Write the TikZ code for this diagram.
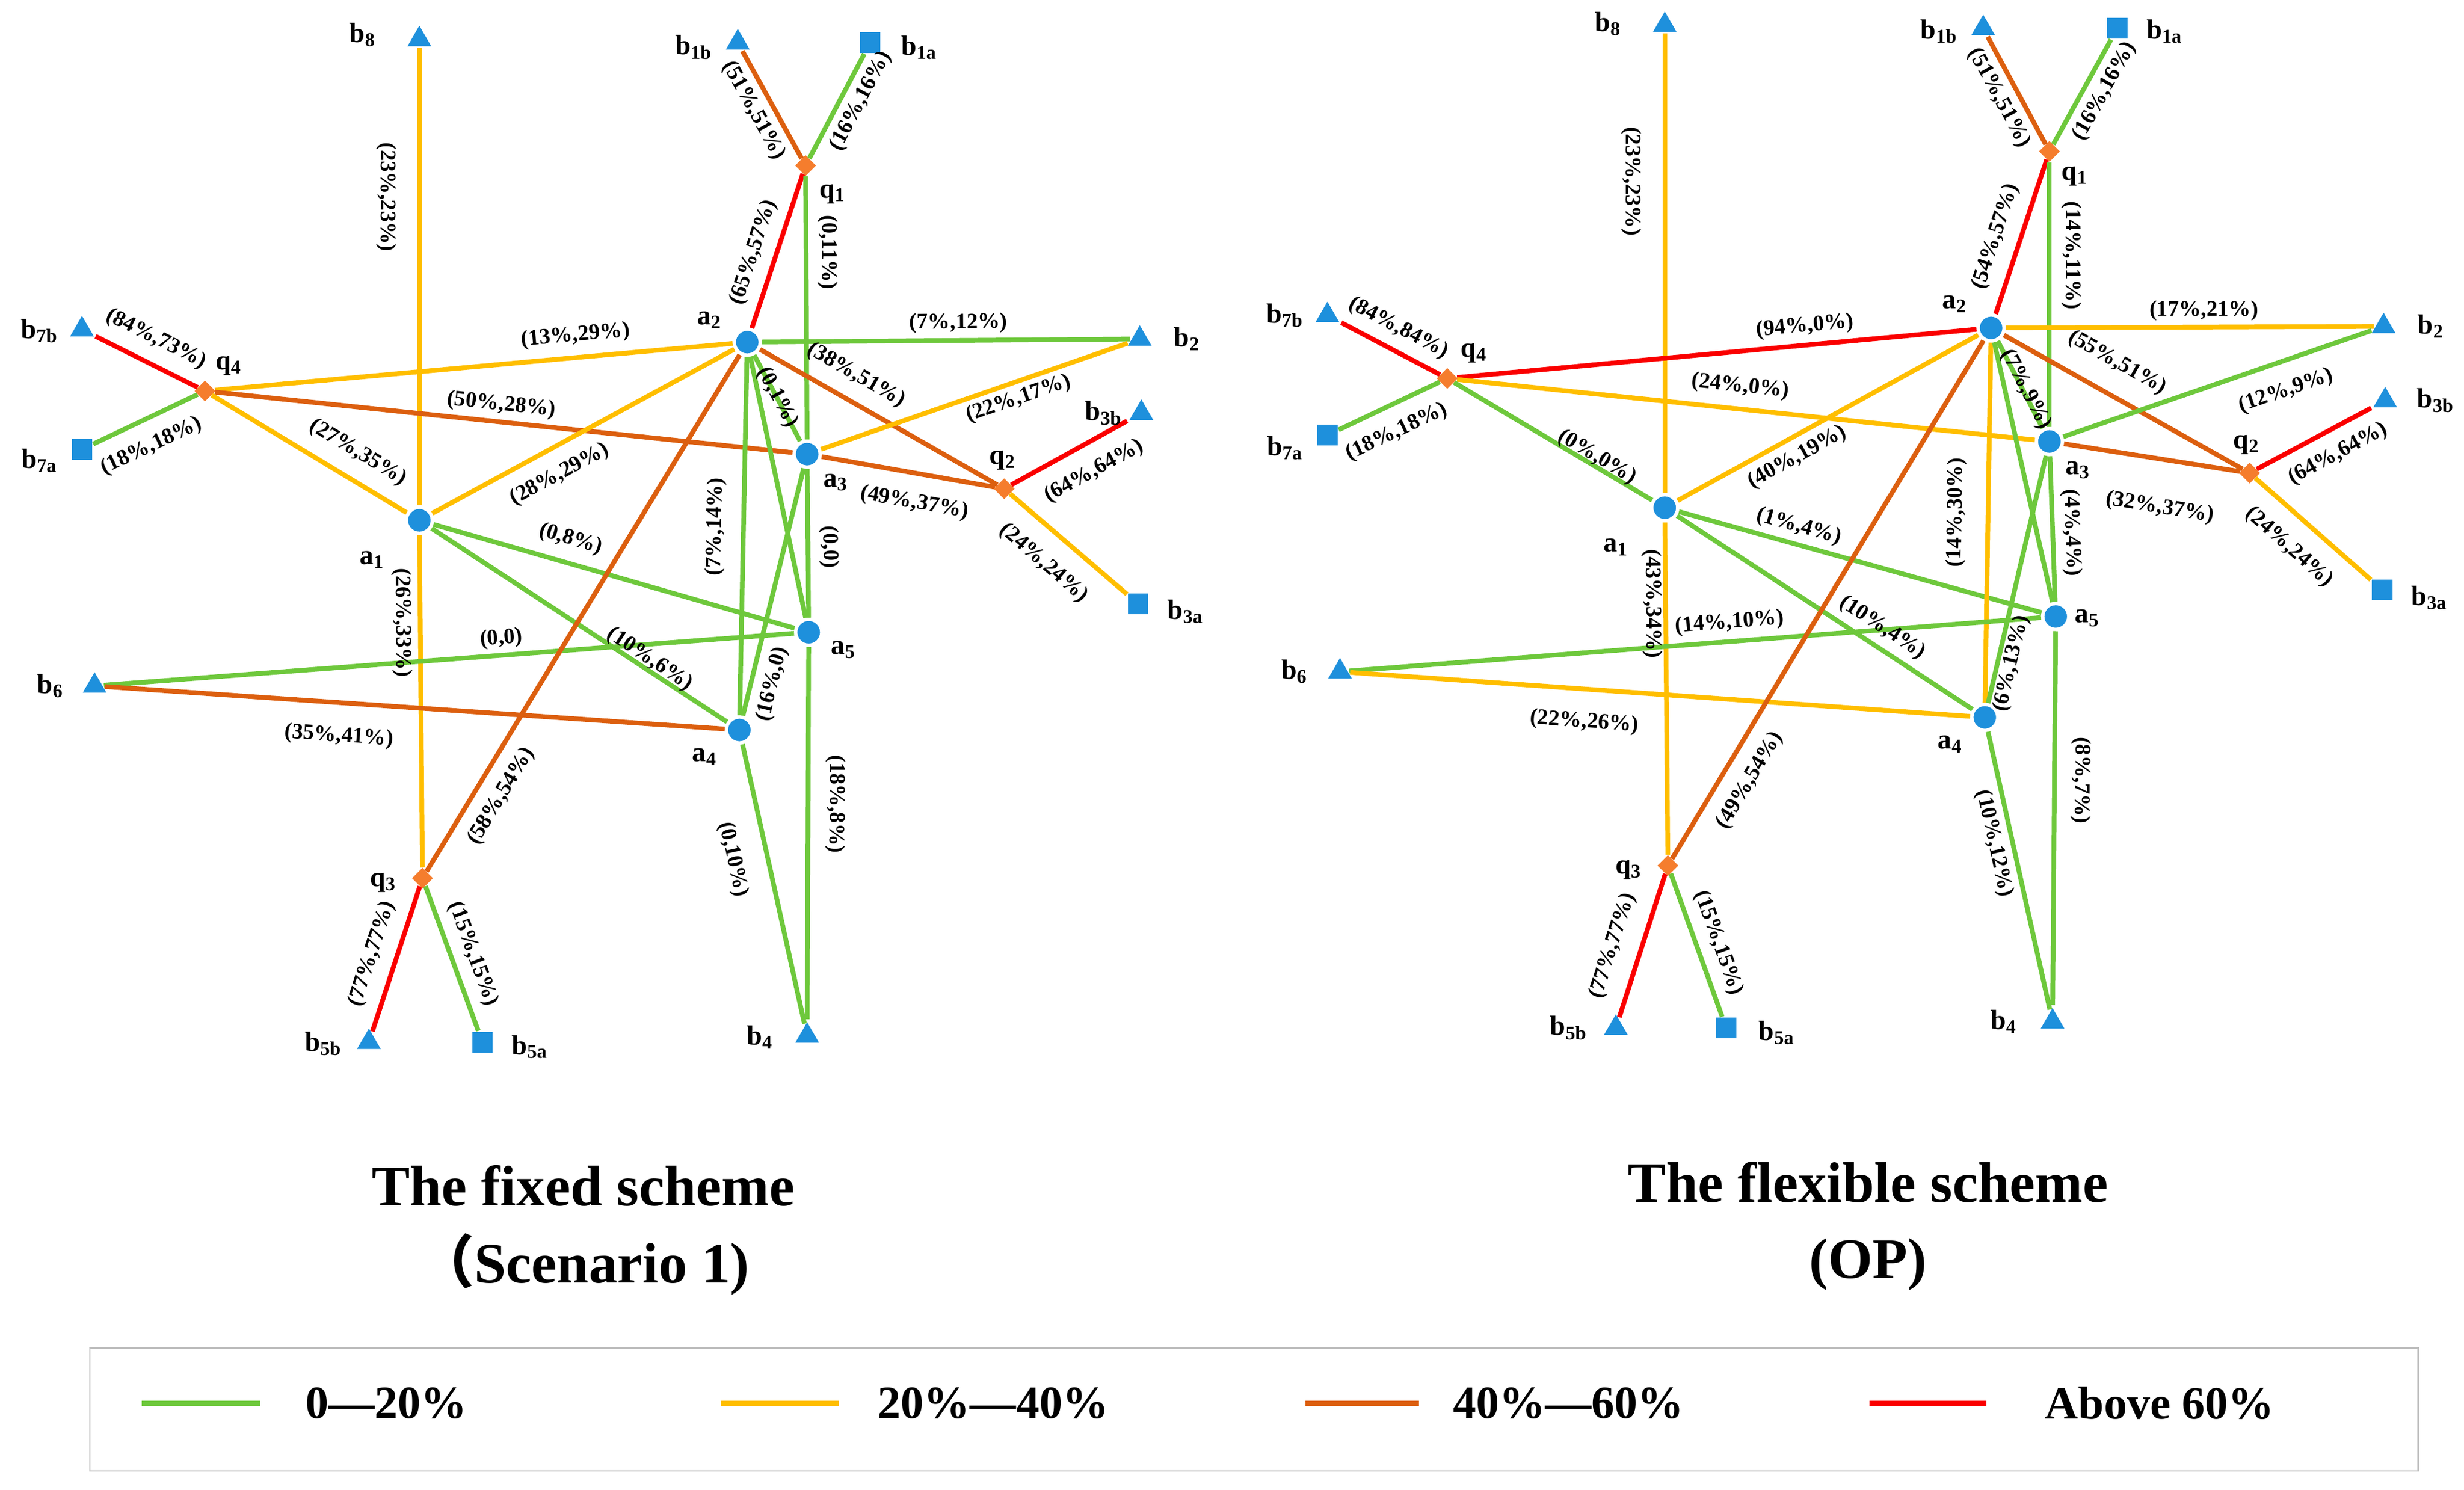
\documentclass[tikz,border=0pt]{standalone}
\usepackage{fontspec}
\setmainfont{Liberation Serif}
\newfontfamily\cjk{Noto Sans CJK SC}
\usetikzlibrary{calc,shapes.geometric,backgrounds}
\definecolor{cG}{RGB}{110,200,60}
\definecolor{cY}{RGB}{255,190,0}
\definecolor{cO}{RGB}{220,95,15}
\definecolor{cR}{RGB}{250,0,0}
\definecolor{cB}{RGB}{30,144,220}
\definecolor{cD}{RGB}{245,125,45}
\tikzset{
 G/.style={cG,line width=0.9mm}, Y/.style={cY,line width=0.9mm},
 O/.style={cO,line width=0.9mm}, R/.style={cR,line width=0.9mm},
 ac/.style={circle,fill=cB,draw=white,line width=0.3mm,minimum size=4.6mm,inner sep=0,outer sep=0.5mm},
 bt/.style={regular polygon,regular polygon sides=3,fill=cB,minimum size=5.2mm,inner sep=0,outer sep=0.3mm},
 bs/.style={rectangle,fill=cB,minimum size=3.9mm,inner sep=0,outer sep=0.2mm},
 qd/.style={diamond,fill=cD,minimum size=4mm,inner sep=0},
 nl/.style={font=\fontsize{15}{17}\selectfont\bfseries},
 lab/.style={font=\fontsize{12}{14}\selectfont\bfseries,inner sep=0},
}
\newcommand\elabel[5]{\path let \p1=($(#2)-(#1)$), \n1={atan2(\y1,\x1)},
 \n2={ifthenelse(\n1>90.5,\n1-180,ifthenelse(\n1<-90.5,\n1+180,\n1))} in
 node[lab,rotate=\n2] at (#3,#4) {#5};}
\begin{document}
\begin{tikzpicture}[x=0.3mm,y=-0.3mm]
\useasboundingbox (0,0) rectangle (1563,945);
% ---------- left nodes
\node[bt] (Lb8) at (266,25) {}; \node[nl] at (230,22) {b\textsubscript{8}};
\node[bt] (Lb1b) at (468,27) {}; \node[nl] at (440,30) {b\textsubscript{1b}};
\node[bs] (Lb1a) at (552,27) {}; \node[nl] at (583,30) {b\textsubscript{1a}};
\node[qd] (Lq1) at (511,105) {}; \node[nl] at (528,123) {q\textsubscript{1}};
\node[ac] (La2) at (474,217) {}; \node[nl] at (450,203) {a\textsubscript{2}};
\node[bt] (Lb2) at (723,215) {}; \node[nl] at (753,215) {b\textsubscript{2}};
\node[bt] (Lb7b) at (52,209) {}; \node[nl] at (25,210) {b\textsubscript{7b}};
\node[qd] (Lq4) at (130,248) {}; \node[nl] at (145,232) {q\textsubscript{4}};
\node[bs] (Lb7a) at (52,285) {}; \node[nl] at (25,292) {b\textsubscript{7a}};
\node[ac] (La3) at (512,288) {}; \node[nl] at (530,306) {a\textsubscript{3}};
\node[bt] (Lb3b) at (724,262) {}; \node[nl] at (700,262) {b\textsubscript{3b}};
\node[qd] (Lq2) at (637,310) {}; \node[nl] at (636,292) {q\textsubscript{2}};
\node[ac] (La1) at (266,330) {}; \node[nl] at (236,355) {a\textsubscript{1}};
\node[bs] (Lb3a) at (722,383) {}; \node[nl] at (752,388) {b\textsubscript{3a}};
\node[ac] (La5) at (513,401) {}; \node[nl] at (535,412) {a\textsubscript{5}};
\node[bt] (Lb6) at (60,435) {}; \node[nl] at (32,435) {b\textsubscript{6}};
\node[ac] (La4) at (469,463) {}; \node[nl] at (447,480) {a\textsubscript{4}};
\node[qd] (Lq3) at (268,557) {}; \node[nl] at (243,560) {q\textsubscript{3}};
\node[bt] (Lb5b) at (234,661) {}; \node[nl] at (205,662) {b\textsubscript{5b}};
\node[bs] (Lb5a) at (306,661) {}; \node[nl] at (336,664) {b\textsubscript{5a}};
\node[bt] (Lb4) at (512,657) {}; \node[nl] at (482,658) {b\textsubscript{4}};
% ---------- right nodes
\node[bt] (Rb8) at (1056,16) {}; \node[nl] at (1020,15) {b\textsubscript{8}};
\node[bt] (Rb1b) at (1258,18) {}; \node[nl] at (1230,20) {b\textsubscript{1b}};
\node[bs] (Rb1a) at (1343,18) {}; \node[nl] at (1373,20) {b\textsubscript{1a}};
\node[qd] (Rq1) at (1300,96) {}; \node[nl] at (1316,112) {q\textsubscript{1}};
\node[ac] (Ra2) at (1263,208) {}; \node[nl] at (1240,193) {a\textsubscript{2}};
\node[bt] (Rb2) at (1512,207) {}; \node[nl] at (1542,207) {b\textsubscript{2}};
\node[bt] (Rb7b) at (842,200) {}; \node[nl] at (815,200) {b\textsubscript{7b}};
\node[qd] (Rq4) at (918,240) {}; \node[nl] at (935,224) {q\textsubscript{4}};
\node[bs] (Rb7a) at (842,276) {}; \node[nl] at (815,284) {b\textsubscript{7a}};
\node[ac] (Ra3) at (1300,280) {}; \node[nl] at (1318,298) {a\textsubscript{3}};
\node[bt] (Rb3b) at (1513,254) {}; \node[nl] at (1545,254) {b\textsubscript{3b}};
\node[qd] (Rq2) at (1427,300) {}; \node[nl] at (1425,282) {q\textsubscript{2}};
\node[ac] (Ra1) at (1056,322) {}; \node[nl] at (1025,347) {a\textsubscript{1}};
\node[bs] (Rb3a) at (1511,374) {}; \node[nl] at (1541,379) {b\textsubscript{3a}};
\node[ac] (Ra5) at (1304,391) {}; \node[nl] at (1324,392) {a\textsubscript{5}};
\node[bt] (Rb6) at (850,426) {}; \node[nl] at (821,426) {b\textsubscript{6}};
\node[ac] (Ra4) at (1259,455) {}; \node[nl] at (1237,472) {a\textsubscript{4}};
\node[qd] (Rq3) at (1058,549) {}; \node[nl] at (1033,552) {q\textsubscript{3}};
\node[bt] (Rb5b) at (1025,652) {}; \node[nl] at (995,652) {b\textsubscript{5b}};
\node[bs] (Rb5a) at (1095,652) {}; \node[nl] at (1127,655) {b\textsubscript{5a}};
\node[bt] (Rb4) at (1302,648) {}; \node[nl] at (1271,648) {b\textsubscript{4}};
% ---------- edges
\begin{scope}[on background layer]
\foreach \u/\v/\c in {b8/a1/Y,a1/q3/Y,b1b/q1/O,b1a/q1/G,q1/a2/R,q1/a3/G,a2/b2/G,q4/a2/Y,b7b/q4/R,b7a/q4/G,q4/a3/O,q4/a1/Y,a1/a2/Y,a2/q2/O,a3/b2/Y,a3/q2/O,a2/a3/G,q2/b3b/R,q2/b3a/Y,a1/a5/G,a2/a4/G,a2/a5/G,a3/a5/G,a3/a4/G,a1/a4/G,b6/a5/G,b6/a4/O,a2/q3/O,q3/b5b/R,q3/b5a/G,a4/b4/G,a5/b4/G}
 \draw[\c] (L\u) -- (L\v);
\foreach \u/\v/\c in {b8/a1/Y,a1/q3/Y,b1b/q1/O,b1a/q1/G,q1/a2/R,q1/a3/G,a2/b2/Y,q4/a2/R,b7b/q4/R,b7a/q4/G,q4/a3/Y,q4/a1/G,a1/a2/Y,a2/q2/O,a3/b2/G,a3/q2/O,a2/a3/G,q2/b3b/R,q2/b3a/Y,a1/a5/G,a2/a4/Y,a2/a5/G,a3/a5/G,a3/a4/G,a1/a4/G,b6/a5/G,b6/a4/Y,a2/q3/O,q3/b5b/R,q3/b5a/G,a4/b4/G,a5/b4/G}
 \draw[\c] (R\u) -- (R\v);
\end{scope}
% ---------- left labels
\elabel{Lb8}{La1}{245}{125}{(23\%,23\%)}
\elabel{La1}{Lq3}{255}{395}{(26\%,33\%)}
\elabel{Lb1b}{Lq1}{478}{70}{(51\%,51\%)}
\elabel{Lb1a}{Lq1}{546}{64}{(16\%,16\%)}
\elabel{Lq1}{La2}{478}{160}{(65\%,57\%)}
\elabel{Lq1}{La3}{525}{160}{(0,11\%)}
\elabel{La2}{Lb2}{608}{205}{(7\%,12\%)}
\elabel{Lq4}{La2}{365}{213}{(13\%,29\%)}
\elabel{Lb7b}{Lq4}{99}{215}{(84\%,73\%)}
\elabel{Lb7a}{Lq4}{96}{283}{(18\%,18\%)}
\elabel{Lq4}{La3}{318}{257}{(50\%,28\%)}
\elabel{Lq4}{La1}{227}{287}{(27\%,35\%)}
\elabel{La1}{La2}{355}{301}{(28\%,29\%)}
\elabel{La2}{Lq2}{543}{238}{(38\%,51\%)}
\elabel{La3}{Lb2}{646}{253}{(22\%,17\%)}
\elabel{La3}{Lq2}{580}{319}{(49\%,37\%)}
\elabel{La2}{La3}{493}{252}{(0,1\%)}
\elabel{Lq2}{Lb3b}{694}{299}{(64\%,64\%)}
\elabel{Lq2}{Lb3a}{662}{357}{(24\%,24\%)}
\elabel{La1}{La5}{362}{342}{(0,8\%)}
\elabel{La2}{La4}{454}{334}{(7\%,14\%)}
\elabel{La3}{La5}{526}{347}{(0,0)}
\elabel{La3}{La4}{490}{434}{(16\%,0)}
\elabel{La1}{La4}{412}{418}{(10\%,6\%)}
\elabel{Lb6}{La5}{318}{405}{(0,0)}
\elabel{Lb6}{La4}{215}{467}{(35\%,41\%)}
\elabel{La2}{Lq3}{318}{505}{(58\%,54\%)}
\elabel{Lq3}{Lb5b}{236}{605}{(77\%,77\%)}
\elabel{Lq3}{Lb5a}{300}{605}{(15\%,15\%)}
\elabel{La4}{Lb4}{465}{545}{(0,10\%)}
\elabel{La5}{Lb4}{530}{510}{(18\%,8\%)}
% ---------- right labels
\elabel{Rb8}{Ra1}{1035}{115}{(23\%,23\%)}
\elabel{Ra1}{Rq3}{1048}{383}{(43\%,34\%)}
\elabel{Rb1b}{Rq1}{1268}{62}{(51\%,51\%)}
\elabel{Rb1a}{Rq1}{1335}{58}{(16\%,16\%)}
\elabel{Rq1}{Ra2}{1266}{150}{(54\%,57\%)}
\elabel{Rq1}{Ra3}{1314}{162}{(14\%,11\%)}
\elabel{Ra2}{Rb2}{1398}{197}{(17\%,21\%)}
\elabel{Rq4}{Ra2}{1145}{207}{(94\%,0\%)}
\elabel{Rb7b}{Rq4}{887}{208}{(84\%,84\%)}
\elabel{Rb7a}{Rq4}{886}{274}{(18\%,18\%)}
\elabel{Rq4}{Ra3}{1104}{245}{(24\%,0\%)}
\elabel{Rq4}{Ra1}{1013}{290}{(0\%,0\%)}
\elabel{Ra1}{Ra2}{1140}{290}{(40\%,19\%)}
\elabel{Ra2}{Rq2}{1343}{230}{(55\%,51\%)}
\elabel{Ra3}{Rb2}{1450}{248}{(12\%,9\%)}
\elabel{Ra3}{Rq2}{1370}{322}{(32\%,37\%)}
\elabel{Ra2}{Ra3}{1285}{247}{(7\%,9\%)}
\elabel{Rq2}{Rb3b}{1483}{288}{(64\%,64\%)}
\elabel{Rq2}{Rb3a}{1452}{347}{(24\%,24\%)}
\elabel{Ra1}{Ra5}{1141}{334}{(1\%,4\%)}
\elabel{Ra2}{Ra4}{1241}{325}{(14\%,30\%)}
\elabel{Ra3}{Ra5}{1314}{338}{(4\%,4\%)}
\elabel{Ra3}{Ra4}{1276}{421}{(6\%,13\%)}
\elabel{Ra1}{Ra4}{1194}{398}{(10\%,4\%)}
\elabel{Rb6}{Ra5}{1097}{395}{(14\%,10\%)}
\elabel{Rb6}{Ra4}{1005}{458}{(22\%,26\%)}
\elabel{Ra2}{Rq3}{1110}{495}{(49\%,54\%)}
\elabel{Rq3}{Rb5b}{1023}{600}{(77\%,77\%)}
\elabel{Rq3}{Rb5a}{1090}{598}{(15\%,15\%)}
\elabel{Ra4}{Rb4}{1265}{535}{(10\%,12\%)}
\elabel{Ra5}{Rb4}{1320}{495}{(8\%,7\%)}
% ---------- titles
\tikzset{ttl/.style={font=\fontsize{31}{36}\selectfont\bfseries}}
\node[ttl] (t1) at (370,752) {The fixed scheme};
\node[ttl] (t2) at (370,802) {{\cjk （}Scenario 1)};
\node[ttl] (t3) at (1185,750) {The flexible scheme};
\node[ttl] (t4) at (1185,802) {(OP)};
% ---------- legend
\node[draw=black!25,line width=0.3mm,minimum width=1477*0.3mm,minimum height=78*0.3mm,inner sep=0] (leg) at (795.5,894) {};
\tikzset{lt/.style={font=\fontsize{25}{30}\selectfont\bfseries}}
\coordinate (g1) at (90,890); \coordinate (g2) at (165,890);
\coordinate (y1) at (457,890); \coordinate (y2) at (532,890);
\coordinate (o1) at (828,890); \coordinate (o2) at (900,890);
\coordinate (r1) at (1186,890); \coordinate (r2) at (1260,890);
\draw[G] (g1) -- (g2); \draw[Y] (y1) -- (y2); \draw[O] (o1) -- (o2); \draw[R] (r1) -- (r2);
\node[lt] at (245,890) {0—20\%};
\node[lt] at (630,890) {20\%—40\%};
\node[lt] at (995,890) {40\%—60\%};
\node[lt] at (1370,890) {Above 60\%};
\end{tikzpicture}
\end{document}
